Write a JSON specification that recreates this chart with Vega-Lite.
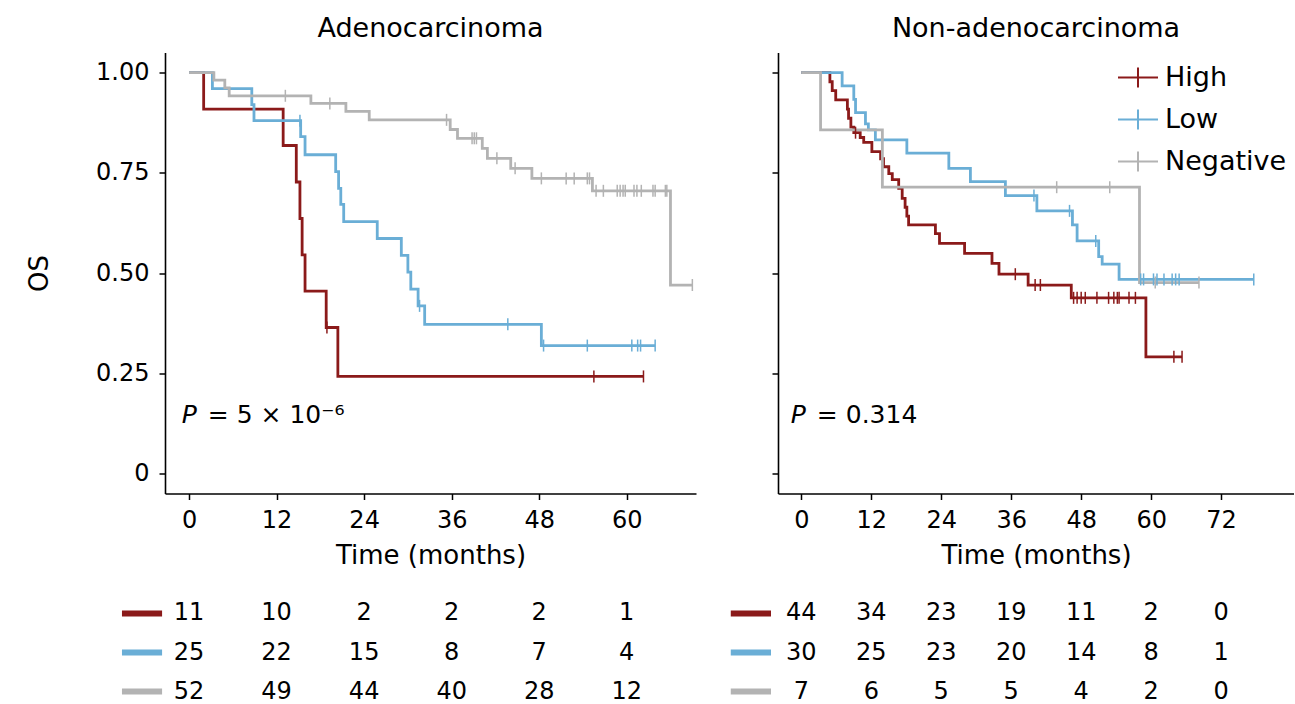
{
  "$schema": "https://vega.github.io/schema/vega-lite/v6.json",
  "padding": {"left": 26, "top": 14.5, "right": 0, "bottom": 0},
  "config": {
    "font": "DejaVu Sans",
    "view": {"stroke": null},
    "axis": {"grid": false, "domainColor": "black", "domainWidth": 1.6, "tickColor": "black", "tickWidth": 1.5, "tickSize": 6, "labelColor": "black", "labelFontSize": 24, "titleFontSize": 26, "titleFontWeight": "normal", "titleColor": "black"},
    "title": {"fontSize": 27, "fontWeight": "normal", "color": "black"},
    "legend": {"padding": 0}
  },
  "datasets": {
    "curves": [
      {"p":"A","g":"High","t":0,"s":1},{"p":"A","g":"High","t":2.0,"s":0.909},{"p":"A","g":"High","t":12.9,"s":0.818},{"p":"A","g":"High","t":14.7,"s":0.727},{"p":"A","g":"High","t":15.2,"s":0.636},{"p":"A","g":"High","t":15.5,"s":0.545},{"p":"A","g":"High","t":15.9,"s":0.455},{"p":"A","g":"High","t":18.8,"s":0.364},{"p":"A","g":"High","t":20.4,"s":0.242},{"p":"A","g":"High","t":62.3,"s":0.242},
      {"p":"A","g":"Low","t":0,"s":1},{"p":"A","g":"Low","t":3.2,"s":0.96},{"p":"A","g":"Low","t":8.6,"s":0.92},{"p":"A","g":"Low","t":8.9,"s":0.88},{"p":"A","g":"Low","t":15.3,"s":0.84},{"p":"A","g":"Low","t":15.9,"s":0.795},{"p":"A","g":"Low","t":20.1,"s":0.753},{"p":"A","g":"Low","t":20.5,"s":0.711},{"p":"A","g":"Low","t":20.8,"s":0.671},{"p":"A","g":"Low","t":21.2,"s":0.628},{"p":"A","g":"Low","t":25.8,"s":0.586},{"p":"A","g":"Low","t":29.1,"s":0.544},{"p":"A","g":"Low","t":30.0,"s":0.502},{"p":"A","g":"Low","t":30.4,"s":0.46},{"p":"A","g":"Low","t":31.4,"s":0.418},{"p":"A","g":"Low","t":32.3,"s":0.372},{"p":"A","g":"Low","t":48.3,"s":0.319},{"p":"A","g":"Low","t":63.9,"s":0.319},
      {"p":"A","g":"Negative","t":0,"s":1},{"p":"A","g":"Negative","t":3.4,"s":0.981},{"p":"A","g":"Negative","t":4.9,"s":0.962},{"p":"A","g":"Negative","t":5.5,"s":0.942},{"p":"A","g":"Negative","t":16.7,"s":0.923},{"p":"A","g":"Negative","t":21.5,"s":0.903},{"p":"A","g":"Negative","t":24.7,"s":0.882},{"p":"A","g":"Negative","t":35.8,"s":0.858},{"p":"A","g":"Negative","t":36.8,"s":0.836},{"p":"A","g":"Negative","t":40.2,"s":0.811},{"p":"A","g":"Negative","t":40.9,"s":0.786},{"p":"A","g":"Negative","t":44.1,"s":0.761},{"p":"A","g":"Negative","t":47.0,"s":0.736},{"p":"A","g":"Negative","t":55.3,"s":0.705},{"p":"A","g":"Negative","t":66.0,"s":0.47},{"p":"A","g":"Negative","t":69.0,"s":0.47},
      {"p":"B","g":"High","t":0,"s":1},{"p":"B","g":"High","t":4.9,"s":0.977},{"p":"B","g":"High","t":5.3,"s":0.955},{"p":"B","g":"High","t":5.9,"s":0.932},{"p":"B","g":"High","t":7.9,"s":0.909},{"p":"B","g":"High","t":8.1,"s":0.886},{"p":"B","g":"High","t":8.5,"s":0.864},{"p":"B","g":"High","t":9.0,"s":0.85},{"p":"B","g":"High","t":10.1,"s":0.838},{"p":"B","g":"High","t":10.7,"s":0.826},{"p":"B","g":"High","t":12.1,"s":0.803},{"p":"B","g":"High","t":13.6,"s":0.785},{"p":"B","g":"High","t":14.1,"s":0.765},{"p":"B","g":"High","t":15.0,"s":0.748},{"p":"B","g":"High","t":15.6,"s":0.733},{"p":"B","g":"High","t":16.7,"s":0.711},{"p":"B","g":"High","t":17.3,"s":0.686},{"p":"B","g":"High","t":17.8,"s":0.664},{"p":"B","g":"High","t":18.1,"s":0.642},{"p":"B","g":"High","t":18.4,"s":0.62},{"p":"B","g":"High","t":23.0,"s":0.598},{"p":"B","g":"High","t":23.7,"s":0.574},{"p":"B","g":"High","t":28.0,"s":0.549},{"p":"B","g":"High","t":32.7,"s":0.524},{"p":"B","g":"High","t":33.9,"s":0.497},{"p":"B","g":"High","t":38.9,"s":0.47},{"p":"B","g":"High","t":46.3,"s":0.438},{"p":"B","g":"High","t":59.1,"s":0.291},{"p":"B","g":"High","t":65.3,"s":0.291},
      {"p":"B","g":"Low","t":0,"s":1},{"p":"B","g":"Low","t":7.0,"s":0.967},{"p":"B","g":"Low","t":9.0,"s":0.933},{"p":"B","g":"Low","t":9.3,"s":0.9},{"p":"B","g":"Low","t":11.0,"s":0.872},{"p":"B","g":"Low","t":11.5,"s":0.857},{"p":"B","g":"Low","t":12.7,"s":0.832},{"p":"B","g":"Low","t":18.1,"s":0.799},{"p":"B","g":"Low","t":25.3,"s":0.761},{"p":"B","g":"Low","t":29.0,"s":0.728},{"p":"B","g":"Low","t":35.0,"s":0.693},{"p":"B","g":"Low","t":40.4,"s":0.655},{"p":"B","g":"Low","t":46.5,"s":0.62},{"p":"B","g":"Low","t":47.3,"s":0.58},{"p":"B","g":"Low","t":51.0,"s":0.541},{"p":"B","g":"Low","t":51.6,"s":0.522},{"p":"B","g":"Low","t":54.5,"s":0.484},{"p":"B","g":"Low","t":77.6,"s":0.484},
      {"p":"B","g":"Negative","t":0,"s":1},{"p":"B","g":"Negative","t":3.3,"s":0.857},{"p":"B","g":"Negative","t":13.9,"s":0.714},{"p":"B","g":"Negative","t":58.0,"s":0.476},{"p":"B","g":"Negative","t":68.2,"s":0.476}
    ],
    "cens": [
      {"p":"A","g":"High","t":18.9,"s":0.364},{"p":"A","g":"High","t":55.5,"s":0.242},{"p":"A","g":"High","t":62.3,"s":0.242},
      {"p":"A","g":"Low","t":15.2,"s":0.88},{"p":"A","g":"Low","t":31.6,"s":0.418},{"p":"A","g":"Low","t":43.7,"s":0.372},{"p":"A","g":"Low","t":48.6,"s":0.319},{"p":"A","g":"Low","t":54.6,"s":0.319},{"p":"A","g":"Low","t":60.7,"s":0.319},{"p":"A","g":"Low","t":61.5,"s":0.319},{"p":"A","g":"Low","t":61.9,"s":0.319},{"p":"A","g":"Low","t":63.9,"s":0.319},
      {"p":"A","g":"Negative","t":13.2,"s":0.942},{"p":"A","g":"Negative","t":19.3,"s":0.923},{"p":"A","g":"Negative","t":35.3,"s":0.882},{"p":"A","g":"Negative","t":38.8,"s":0.836},{"p":"A","g":"Negative","t":39.1,"s":0.836},{"p":"A","g":"Negative","t":39.4,"s":0.836},{"p":"A","g":"Negative","t":42.2,"s":0.786},{"p":"A","g":"Negative","t":44.7,"s":0.761},{"p":"A","g":"Negative","t":48.3,"s":0.736},{"p":"A","g":"Negative","t":51.7,"s":0.736},{"p":"A","g":"Negative","t":52.8,"s":0.736},{"p":"A","g":"Negative","t":54.6,"s":0.736},{"p":"A","g":"Negative","t":54.9,"s":0.736},{"p":"A","g":"Negative","t":55.8,"s":0.705},{"p":"A","g":"Negative","t":56.8,"s":0.705},{"p":"A","g":"Negative","t":58.7,"s":0.705},{"p":"A","g":"Negative","t":59.1,"s":0.705},{"p":"A","g":"Negative","t":59.5,"s":0.705},{"p":"A","g":"Negative","t":59.8,"s":0.705},{"p":"A","g":"Negative","t":61.0,"s":0.705},{"p":"A","g":"Negative","t":61.4,"s":0.705},{"p":"A","g":"Negative","t":62.0,"s":0.705},{"p":"A","g":"Negative","t":63.6,"s":0.705},{"p":"A","g":"Negative","t":63.9,"s":0.705},{"p":"A","g":"Negative","t":65.3,"s":0.705},{"p":"A","g":"Negative","t":65.5,"s":0.705},{"p":"A","g":"Negative","t":69.0,"s":0.47},
      {"p":"B","g":"High","t":9.3,"s":0.85},{"p":"B","g":"High","t":36.7,"s":0.497},{"p":"B","g":"High","t":40.1,"s":0.47},{"p":"B","g":"High","t":41.0,"s":0.47},{"p":"B","g":"High","t":46.7,"s":0.438},{"p":"B","g":"High","t":47.3,"s":0.438},{"p":"B","g":"High","t":48.0,"s":0.438},{"p":"B","g":"High","t":48.7,"s":0.438},{"p":"B","g":"High","t":50.7,"s":0.438},{"p":"B","g":"High","t":52.7,"s":0.438},{"p":"B","g":"High","t":53.6,"s":0.438},{"p":"B","g":"High","t":54.2,"s":0.438},{"p":"B","g":"High","t":54.5,"s":0.438},{"p":"B","g":"High","t":56.2,"s":0.438},{"p":"B","g":"High","t":57.3,"s":0.438},{"p":"B","g":"High","t":63.9,"s":0.291},{"p":"B","g":"High","t":65.3,"s":0.291},
      {"p":"B","g":"Low","t":39.9,"s":0.693},{"p":"B","g":"Low","t":46.0,"s":0.655},{"p":"B","g":"Low","t":50.5,"s":0.58},{"p":"B","g":"Low","t":58.2,"s":0.484},{"p":"B","g":"Low","t":58.7,"s":0.484},{"p":"B","g":"Low","t":60.4,"s":0.484},{"p":"B","g":"Low","t":61.0,"s":0.484},{"p":"B","g":"Low","t":62.2,"s":0.484},{"p":"B","g":"Low","t":63.6,"s":0.484},{"p":"B","g":"Low","t":64.2,"s":0.484},{"p":"B","g":"Low","t":64.8,"s":0.484},{"p":"B","g":"Low","t":77.6,"s":0.484},
      {"p":"B","g":"Negative","t":43.8,"s":0.714},{"p":"B","g":"Negative","t":52.9,"s":0.714},{"p":"B","g":"Negative","t":60.7,"s":0.476},{"p":"B","g":"Negative","t":68.2,"s":0.476}
    ],
    "risk": [
      {"p":"A","g":"High","t":0,"n":11},{"p":"A","g":"High","t":12,"n":10},{"p":"A","g":"High","t":24,"n":2},{"p":"A","g":"High","t":36,"n":2},{"p":"A","g":"High","t":48,"n":2},{"p":"A","g":"High","t":60,"n":1},
      {"p":"A","g":"Low","t":0,"n":25},{"p":"A","g":"Low","t":12,"n":22},{"p":"A","g":"Low","t":24,"n":15},{"p":"A","g":"Low","t":36,"n":8},{"p":"A","g":"Low","t":48,"n":7},{"p":"A","g":"Low","t":60,"n":4},
      {"p":"A","g":"Negative","t":0,"n":52},{"p":"A","g":"Negative","t":12,"n":49},{"p":"A","g":"Negative","t":24,"n":44},{"p":"A","g":"Negative","t":36,"n":40},{"p":"A","g":"Negative","t":48,"n":28},{"p":"A","g":"Negative","t":60,"n":12},
      {"p":"B","g":"High","t":0,"n":44},{"p":"B","g":"High","t":12,"n":34},{"p":"B","g":"High","t":24,"n":23},{"p":"B","g":"High","t":36,"n":19},{"p":"B","g":"High","t":48,"n":11},{"p":"B","g":"High","t":60,"n":2},{"p":"B","g":"High","t":72,"n":0},
      {"p":"B","g":"Low","t":0,"n":30},{"p":"B","g":"Low","t":12,"n":25},{"p":"B","g":"Low","t":24,"n":23},{"p":"B","g":"Low","t":36,"n":20},{"p":"B","g":"Low","t":48,"n":14},{"p":"B","g":"Low","t":60,"n":8},{"p":"B","g":"Low","t":72,"n":1},
      {"p":"B","g":"Negative","t":0,"n":7},{"p":"B","g":"Negative","t":12,"n":6},{"p":"B","g":"Negative","t":24,"n":5},{"p":"B","g":"Negative","t":36,"n":5},{"p":"B","g":"Negative","t":48,"n":4},{"p":"B","g":"Negative","t":60,"n":2},{"p":"B","g":"Negative","t":72,"n":0}
    ]
  },
  "columns": 2,
  "bounds": "flush",
  "align": "each",
  "spacing": {"row": 109, "column": 82},
  "resolve": {"scale": {"color": "independent", "x": "independent", "y": "independent"}, "legend": {"color": "independent"}},
  "concat": [
    {
      "title": {"text": "Adenocarcinoma", "offset": 10},
      "width": 531,
      "height": 441,
      "layer": [
        {
          "data": {"name": "curves"},
          "transform": [{"filter": "datum.p == 'A'"}],
          "mark": {"type": "line", "interpolate": "step-after", "strokeWidth": 2.8},
          "encoding": {
            "x": {"field": "t", "type": "quantitative", "scale": {"domain": [-3.3, 69.5], "nice": false, "zero": false}, "axis": {"values": [0, 12, 24, 36, 48, 60], "title": "Time (months)", "labelPadding": 9, "titlePadding": 10}},
            "y": {"field": "s", "type": "quantitative", "scale": {"domain": [-0.05, 1.05], "nice": false, "zero": false}, "axis": {"values": [0, 0.25, 0.5, 0.75, 1], "labelExpr": "datum.value == 0 ? '0' : format(datum.value, '.2f')", "title": "OS", "labelPadding": 10, "titlePadding": 43}},
            "color": {"field": "g", "type": "nominal", "scale": {"domain": ["High", "Low", "Negative"], "range": ["#8b1a1a", "#6aaed6", "#b3b3b3"]}, "legend": null}
          }
        },
        {
          "data": {"name": "cens"},
          "transform": [{"filter": "datum.p == 'A'"}],
          "mark": {"type": "point", "shape": "M0,-1V1", "size": 144, "strokeWidth": 1.5, "filled": false, "opacity": 1},
          "encoding": {
            "x": {"field": "t", "type": "quantitative"},
            "y": {"field": "s", "type": "quantitative"},
            "color": {"field": "g", "type": "nominal", "legend": null}
          }
        },
        {
          "data": {"values": [{}]},
          "mark": {"type": "text", "text": "P", "fontStyle": "italic", "fontSize": 25, "align": "left", "baseline": "middle", "color": "black"},
          "encoding": {"x": {"datum": -1.0}, "y": {"datum": 0.146}}
        },
        {
          "data": {"values": [{}]},
          "mark": {"type": "text", "text": "= 5 × 10⁻⁶", "fontSize": 25, "align": "left", "baseline": "middle", "dx": 26, "color": "black"},
          "encoding": {"x": {"datum": -1.0}, "y": {"datum": 0.146}}
        }
      ]
    },
    {
      "title": {"text": "Non-adenocarcinoma", "offset": 10},
      "width": 516,
      "height": 441,
      "layer": [
        {
          "data": {"name": "curves"},
          "transform": [{"filter": "datum.p == 'B'"}],
          "mark": {"type": "line", "interpolate": "step-after", "strokeWidth": 2.8},
          "encoding": {
            "x": {"field": "t", "type": "quantitative", "scale": {"domain": [-4.0, 84.5], "nice": false, "zero": false}, "axis": {"values": [0, 12, 24, 36, 48, 60, 72], "title": "Time (months)", "labelPadding": 9, "titlePadding": 10}},
            "y": {"field": "s", "type": "quantitative", "scale": {"domain": [-0.05, 1.05], "nice": false, "zero": false}, "axis": {"values": [0, 0.25, 0.5, 0.75, 1], "labels": false, "title": null}},
            "color": {"field": "g", "type": "nominal", "scale": {"domain": ["High", "Low", "Negative"], "range": ["#8b1a1a", "#6aaed6", "#b3b3b3"]}, "legend": {"orient": "none", "legendX": 339, "legendY": 4, "title": null, "symbolType": "M-1,0H1M0,-0.5V0.5", "symbolSize": 1600, "symbolStrokeWidth": 2, "labelFontSize": 27, "labelOffset": 6, "rowPadding": 7, "labelColor": "black"}}
          }
        },
        {
          "data": {"name": "cens"},
          "transform": [{"filter": "datum.p == 'B'"}],
          "mark": {"type": "point", "shape": "M0,-1V1", "size": 144, "strokeWidth": 1.5, "filled": false, "opacity": 1},
          "encoding": {
            "x": {"field": "t", "type": "quantitative"},
            "y": {"field": "s", "type": "quantitative"},
            "color": {"field": "g", "type": "nominal"}
          }
        },
        {
          "data": {"values": [{}]},
          "mark": {"type": "text", "text": "P", "fontStyle": "italic", "fontSize": 25, "align": "left", "baseline": "middle", "color": "black"},
          "encoding": {"x": {"datum": -1.8}, "y": {"datum": 0.146}}
        },
        {
          "data": {"values": [{}]},
          "mark": {"type": "text", "text": "= 0.314", "fontSize": 25, "align": "left", "baseline": "middle", "dx": 26, "color": "black"},
          "encoding": {"x": {"datum": -1.8}, "y": {"datum": 0.146}}
        }
      ]
    },
    {
      "width": 531,
      "height": 100,
      "data": {"name": "risk"},
      "transform": [{"filter": "datum.p == 'A'"}],
      "layer": [
        {
          "mark": {"type": "text", "fontSize": 24, "color": "black", "baseline": "middle"},
          "encoding": {
            "x": {"field": "t", "type": "quantitative", "scale": {"domain": [-3.3, 69.5], "nice": false, "zero": false}, "axis": null},
            "y": {"field": "g", "type": "nominal", "scale": {"type": "point", "domain": ["High", "Low", "Negative"], "padding": 0.282}, "axis": null},
            "text": {"field": "n", "type": "quantitative"}
          }
        },
        {
          "transform": [{"filter": "datum.t == 0"}],
          "mark": {"type": "rule", "strokeWidth": 6},
          "encoding": {
            "x": {"datum": -9.2},
            "x2": {"datum": -3.7},
            "y": {"field": "g", "type": "nominal"},
            "color": {"field": "g", "type": "nominal", "scale": {"domain": ["High", "Low", "Negative"], "range": ["#8b1a1a", "#6aaed6", "#b3b3b3"]}, "legend": null}
          }
        }
      ]
    },
    {
      "width": 516,
      "height": 100,
      "data": {"name": "risk"},
      "transform": [{"filter": "datum.p == 'B'"}],
      "layer": [
        {
          "mark": {"type": "text", "fontSize": 24, "color": "black", "baseline": "middle"},
          "encoding": {
            "x": {"field": "t", "type": "quantitative", "scale": {"domain": [-4.0, 84.5], "nice": false, "zero": false}, "axis": null},
            "y": {"field": "g", "type": "nominal", "scale": {"type": "point", "domain": ["High", "Low", "Negative"], "padding": 0.282}, "axis": null},
            "text": {"field": "n", "type": "quantitative"}
          }
        },
        {
          "transform": [{"filter": "datum.t == 0"}],
          "mark": {"type": "rule", "strokeWidth": 6},
          "encoding": {
            "x": {"datum": -12.1},
            "x2": {"datum": -5.2},
            "y": {"field": "g", "type": "nominal"},
            "color": {"field": "g", "type": "nominal", "scale": {"domain": ["High", "Low", "Negative"], "range": ["#8b1a1a", "#6aaed6", "#b3b3b3"]}, "legend": null}
          }
        }
      ]
    }
  ]
}
